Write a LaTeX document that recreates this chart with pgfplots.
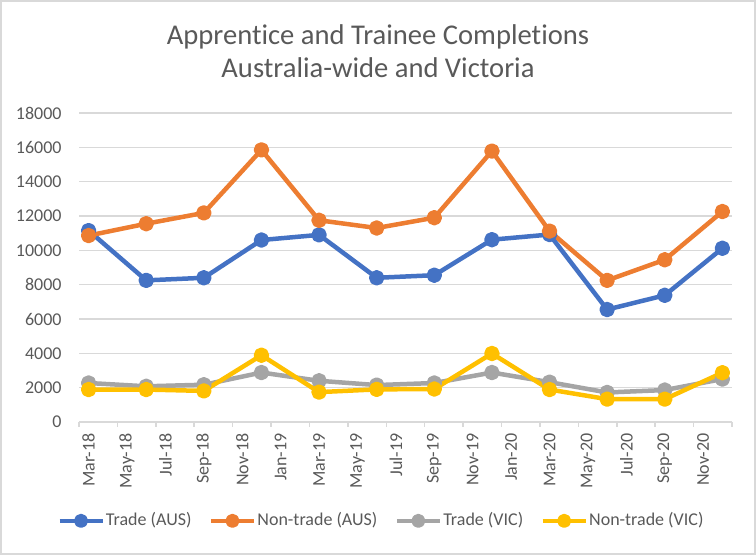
\documentclass[border=0pt]{standalone}
\usepackage{fontspec}
\setmainfont{Carlito}[Ligatures=NoCommon]
\usepackage{pgfplots}
\pgfplotsset{compat=1.18}
\definecolor{cBlue}{HTML}{4472C4}
\definecolor{cOrange}{HTML}{ED7D31}
\definecolor{cGray}{HTML}{A5A5A5}
\definecolor{cYellow}{HTML}{FFC000}
\definecolor{cText}{HTML}{595959}
\definecolor{cGrid}{HTML}{D9D9D9}
\begin{document}
\begin{tikzpicture}
\useasboundingbox (0,0) rectangle (378pt,277.5pt);
\draw[cGrid, line width=1pt] (0.5pt,0.5pt) rectangle (377.5pt,277pt);
\node[anchor=base, text=cText, font=\fontsize{14.3}{17}\selectfont, inner sep=0pt] at (189pt,255pt) {Apprentice and Trainee Completions};
\node[anchor=base, text=cText, font=\fontsize{14.3}{17}\selectfont, inner sep=0pt] at (189pt,238.5pt) {Australia-wide and Victoria};
\begin{axis}[
  at={(39.5pt,66.5pt)}, anchor=south west,
  scale only axis, width=326.5pt, height=154.5pt,
  xmin=0, xmax=34, ymin=0, ymax=18000,
  clip=false,
  axis line style={draw=none},
  xtick={0.5,2.5,...,32.5},
  xticklabels={Mar-18,May-18,Jul-18,Sep-18,Nov-18,Jan-19,Mar-19,May-19,Jul-19,Sep-19,Nov-19,Jan-20,Mar-20,May-20,Jul-20,Sep-20,Nov-20},
  minor xtick={0,2,...,34},
  ytick={0,2000,...,18000},
  scaled y ticks=false,
  tick pos=left,
  tick align=outside,
  major tick length=0pt,
  minor tick length=2.5pt,
  tick style={cGrid, line width=0.75pt},
  ymajorgrids,
  grid style={cGrid, line width=0.75pt},
  /pgf/number format/assume math mode=true,
  /pgf/number format/set thousands separator={},
  yticklabel style={font=\fontsize{9}{11}\selectfont, text=cText, anchor=east, inner sep=0pt},
  yticklabel shift=8.5pt,
  xticklabel style={font=\fontsize{9}{11}\selectfont, text=cText, rotate=90, anchor=east, inner sep=0pt},
  xticklabel shift=5.5pt,
  every axis plot/.append style={line width=2.25pt, line join=round, mark=*, mark size=2.75pt},
  legend columns=4,
  legend cell align=left,
  legend style={at={(0.4625,-0.320)}, anchor=center, draw=none, fill=none,
    font=\fontsize{9}{11}\selectfont, text=cText, inner sep=0pt,
    nodes={inner sep=0.6pt},
    /tikz/every even column/.append style={column sep=8pt}},
  legend image code/.code={\draw[mark repeat=2,mark phase=2,#1,mark size=2.4pt] plot coordinates {(0pt,0pt) (10.75pt,0pt) (21.5pt,0pt)};},
]
\addplot[color=cBlue] coordinates {
 (0.5,11150) (3.5,8250) (6.5,8400) (9.5,10600) (12.5,10900) (15.5,8400)
 (18.5,8550) (21.5,10620) (24.5,10920) (27.5,6550) (30.5,7380) (33.5,10120)};
\addlegendentry{Trade (AUS)}
\addplot[color=cOrange] coordinates {
 (0.5,10860) (3.5,11550) (6.5,12180) (9.5,15850) (12.5,11750) (15.5,11300)
 (18.5,11900) (21.5,15780) (24.5,11120) (27.5,8250) (30.5,9450) (33.5,12260)};
\addlegendentry{Non-trade (AUS)}
\addplot[color=cGray] coordinates {
 (0.5,2270) (3.5,2080) (6.5,2170) (9.5,2880) (12.5,2400) (15.5,2150)
 (18.5,2270) (21.5,2880) (24.5,2320) (27.5,1720) (30.5,1860) (33.5,2500)};
\addlegendentry{Trade (VIC)}
\addplot[color=cYellow] coordinates {
 (0.5,1890) (3.5,1890) (6.5,1810) (9.5,3890) (12.5,1740) (15.5,1900)
 (18.5,1920) (21.5,3990) (24.5,1890) (27.5,1330) (30.5,1330) (33.5,2870)};
\addlegendentry{Non-trade (VIC)}
\end{axis}
\end{tikzpicture}
\end{document}
